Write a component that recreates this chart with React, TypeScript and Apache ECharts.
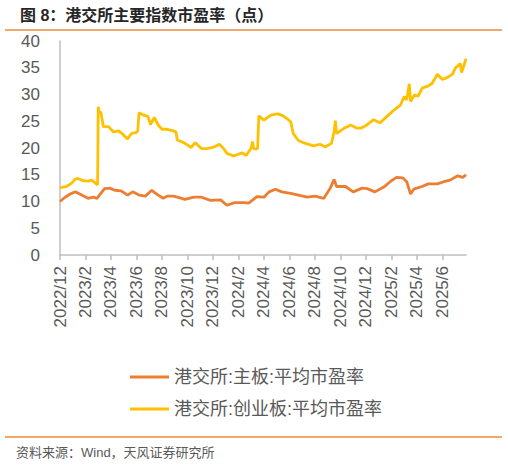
import { useEffect, useRef } from 'react'
import * as echarts from 'echarts'

// x positions are months counted from 2022/12
const tickLabels = [
  '2022/12', '2023/2', '2023/4', '2023/6', '2023/8', '2023/10', '2023/12', '2024/2',
  '2024/4', '2024/6', '2024/8', '2024/10', '2024/12', '2025/2', '2025/4', '2025/6',
]

const mainX = [
  0, 0.4, 0.8, 1.2, 1.7, 2.2, 2.6, 2.9, 3.2, 3.5, 3.9, 4.3, 4.8, 5.3, 5.7, 6.2, 6.7, 7.2,
  7.7, 8.1, 8.4, 8.9, 9.2, 9.8, 10.5, 11.1, 11.8, 12.6, 13.1, 13.7, 14.4, 14.8, 15.45, 16.0,
  16.4, 16.9, 17.4, 18.1, 18.7, 19.4, 20.0, 20.7, 21.2, 21.5, 21.7, 22.4, 23.0, 23.7, 24.1,
  24.7, 25.4, 25.9, 26.4, 26.9, 27.2, 27.5, 27.75, 28.4, 28.9, 29.6, 30.1, 30.6, 31.2, 31.6,
  31.85,
]
const mainPE = [
  10.0, 10.8, 11.4, 11.8, 11.2, 10.6, 10.8, 10.6, 11.5, 12.4, 12.5, 12.1, 12.0, 11.2, 11.8,
  11.2, 11.0, 12.1, 11.2, 10.6, 11.0, 11.0, 10.8, 10.4, 10.8, 10.8, 10.2, 10.3, 9.3, 9.8,
  9.8, 9.7, 10.9, 10.8, 11.8, 12.3, 11.8, 11.5, 11.2, 10.8, 11.0, 10.6, 12.5, 14.1, 12.8,
  12.8, 11.8, 12.5, 12.4, 11.8, 12.7, 13.7, 14.5, 14.4, 13.7, 11.4, 12.3, 12.8, 13.3, 13.3,
  13.7, 14.0, 14.8, 14.5, 15.0,
]

const gemX = [
  0, 0.5, 0.9, 1.2, 1.4, 1.8, 2.2, 2.5, 2.8, 2.95, 3.0, 3.1, 3.2, 3.4, 3.8, 4.2, 4.6, 5.0,
  5.3, 5.6, 6.0, 6.1, 6.2, 6.5, 6.9, 7.1, 7.4, 7.7, 8.0, 8.4, 8.9, 9.1, 9.2, 9.7, 10.3, 10.6,
  11.1, 11.5, 12.0, 12.5, 12.8, 13.1, 13.6, 14.3, 14.6, 15.0, 15.1, 15.2, 15.4, 15.5, 15.6,
  16.0, 16.4, 16.6, 17.1, 17.5, 17.8, 18.1, 18.3, 18.7, 19.2, 19.9, 20.4, 20.8, 21.3, 21.5,
  21.6, 21.7, 22.3, 22.8, 23.3, 23.6, 24.0, 24.6, 25.1, 25.7, 26.2, 26.7, 27.0, 27.2, 27.4,
  27.5, 27.8, 28.1, 28.4, 28.9, 29.2, 29.6, 30.0, 30.4, 30.8, 31.0, 31.4, 31.5, 31.7, 31.85,
]
const gemPE = [
  12.6, 12.8, 13.4, 14.2, 14.3, 13.9, 13.8, 14.0, 13.4, 13.1, 27.7, 26.5, 26.8, 24.0, 24.0,
  23.0, 23.2, 22.4, 21.7, 22.7, 22.9, 23.2, 26.6, 26.2, 25.9, 24.4, 25.7, 24.3, 23.5, 23.5,
  23.2, 23.0, 21.5, 21.0, 20.1, 21.0, 19.9, 19.9, 20.1, 20.7, 20.0, 19.0, 18.5, 19.1, 18.6,
  20.0, 21.2, 19.9, 19.8, 19.9, 26.0, 25.2, 25.9, 26.2, 26.4, 26.0, 25.5, 24.9, 22.7, 21.4,
  20.9, 20.4, 20.7, 20.2, 20.9, 23.0, 25.1, 22.7, 23.7, 24.3, 23.7, 23.7, 24.2, 25.3, 24.7,
  26.0, 27.1, 28.0, 29.6, 29.0, 32.0, 28.7, 29.9, 29.7, 31.2, 31.6, 32.1, 33.8, 32.8, 33.2,
  33.8, 34.9, 35.8, 34.1, 35.5, 36.7,
]

const seriesNames = ['港交所:主板:平均市盈率', '港交所:创业板:平均市盈率']
const titleText = '图 8：港交所主要指数市盈率（点）'
const sourceText = '资料来源：Wind，天风证券研究所'

const FONT = "'Liberation Sans', 'Noto Sans CJK SC', sans-serif"
const GREY = '#595959'

export default function App() {
  const ref = useRef<HTMLDivElement>(null)

  useEffect(() => {
    if (!ref.current) return
    const chart = echarts.init(ref.current, undefined, { renderer: 'svg' })
    const tickPos = tickLabels.map((_, i) => i * 2)

    chart.setOption({
      animation: false,
      textStyle: { fontFamily: FONT },
      grid: { left: 60, right: 42, top: 41, bottom: 210 },
      graphic: [
        {
          type: 'text',
          left: 20,
          top: 7,
          style: { text: titleText, font: `bold 16px ${FONT}`, fill: '#262626' },
        },
        {
          type: 'line',
          shape: { x1: 5, y1: 30, x2: 502, y2: 30 },
          style: { stroke: '#F08A38', lineWidth: 1.5 },
        },
        {
          type: 'line',
          shape: { x1: 5, y1: 437, x2: 502, y2: 437 },
          style: { stroke: '#F08A38', lineWidth: 1.5 },
        },
        {
          type: 'text',
          left: 16,
          top: 446,
          style: { text: sourceText, font: `13px ${FONT}`, fill: GREY },
        },
      ],
      legend: {
        orient: 'vertical',
        left: 130,
        top: 367,
        padding: 0,
        icon: 'rect',
        itemWidth: 39,
        itemHeight: 3,
        itemGap: 12,
        textStyle: { fontSize: 18, color: GREY, lineHeight: 20, fontFamily: FONT },
        data: seriesNames,
      },
      xAxis: {
        type: 'value',
        min: 0,
        max: 31.85,
        splitLine: { show: false },
        axisLine: { show: true, lineStyle: { color: '#BFBFBF', width: 1.5 } },
        axisTick: {
          show: true,
          length: 5,
          customValues: tickPos,
          lineStyle: { color: '#BFBFBF', width: 1.5 },
        },
        axisLabel: {
          customValues: tickPos,
          rotate: 90,
          margin: 11,
          fontSize: 17,
          color: GREY,
          fontFamily: FONT,
          formatter: (v: number) => tickLabels[Math.round(v / 2)] ?? '',
        },
      },
      yAxis: {
        type: 'value',
        min: 0,
        max: 40,
        interval: 5,
        splitLine: { show: false },
        axisLine: { show: true, lineStyle: { color: '#BFBFBF', width: 1.5 } },
        axisTick: { show: false },
        axisLabel: { fontSize: 17, color: GREY, margin: 20, fontFamily: FONT },
      },
      series: [
        {
          name: seriesNames[0],
          type: 'line',
          showSymbol: false,
          data: mainX.map((x, i) => [x, mainPE[i]]),
          lineStyle: { color: '#ED7D31', width: 2.8 },
          itemStyle: { color: '#ED7D31' },
        },
        {
          name: seriesNames[1],
          type: 'line',
          showSymbol: false,
          data: gemX.map((x, i) => [x, gemPE[i]]),
          lineStyle: { color: '#FFC000', width: 2.8 },
          itemStyle: { color: '#FFC000' },
        },
      ],
    })

    return () => chart.dispose()
  }, [])

  return (
    <div
      ref={ref}
      style={{ position: 'fixed', left: 0, top: 0, width: 508, height: 465, background: '#fff' }}
    />
  )
}
